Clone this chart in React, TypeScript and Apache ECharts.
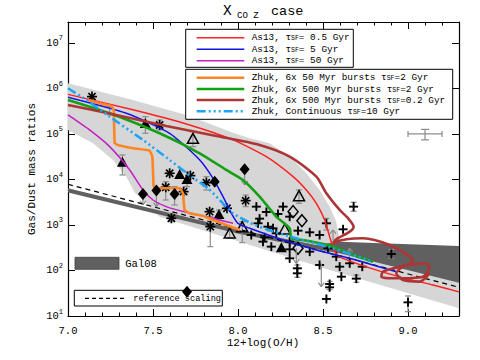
import React, { useEffect, useRef } from "react";
import * as echarts from "echarts";

const MONO = "'Liberation Mono', 'DejaVu Sans Mono', monospace";

// All points: [12+log(O/H), log10(gas-to-dust mass ratio)]
const as13Tau05 = [[7.0, 5.87], [7.382, 5.53], [7.696, 5.22], [7.971, 4.87], [8.167, 4.5], [8.324, 4.062], [8.402, 3.769], [8.461, 3.476], [8.51, 3.11], [8.539, 2.744], [8.569, 2.414], [8.594, 2.304], [8.755, 2.08], [8.951, 1.86], [9.147, 1.68], [9.3, 1.53]];
const as13Tau5 = [[7.0, 5.806], [7.343, 5.454], [7.598, 5.015], [7.775, 4.429], [7.853, 4.026], [7.912, 3.623], [7.961, 3.256], [8.0, 3.037], [8.069, 2.927], [8.265, 2.67], [8.461, 2.451], [8.657, 2.267], [8.794, 2.121], [8.931, 1.974]];
const as13Tau50 = [[7.0, 5.418], [7.127, 5.088], [7.245, 4.722], [7.363, 4.209], [7.441, 3.769], [7.5, 3.549], [7.578, 3.403], [7.696, 3.278], [7.853, 3.147], [7.971, 3.037]];
const zhuk50Myr = [[7.118, 5.747], [7.186, 5.674], [7.255, 5.615], [7.269, 5.527], [7.275, 4.795], [7.304, 4.744], [7.382, 4.685], [7.48, 4.634], [7.496, 4.502], [7.504, 3.842], [7.52, 3.806], [7.657, 3.806], [7.676, 3.696], [7.686, 3.33], [7.716, 3.256], [7.794, 3.198], [7.853, 3.11], [7.931, 3.0], [8.01, 2.89]];
const zhuk500Myr2 = [[7.0, 5.747], [7.245, 5.454], [7.539, 5.015], [7.775, 4.575], [7.931, 4.209], [8.029, 3.989], [8.127, 3.623], [8.225, 3.183], [8.304, 2.927], [8.314, 2.707], [8.382, 2.67], [8.48, 2.597], [8.559, 2.524], [8.676, 2.341], [8.794, 2.194]];
const zhuk500Myr02 = [[7.0, 5.637], [7.284, 5.418], [7.578, 5.176], [7.873, 4.956], [8.127, 4.758], [8.304, 4.502], [8.461, 4.062], [8.52, 3.696], [8.598, 3.33], [8.647, 3.15], [8.68, 2.963], [8.657, 2.853], [8.578, 2.685], [8.559, 2.612], [8.637, 2.685], [8.735, 2.707], [8.892, 2.56], [9.01, 2.304], [9.029, 2.194], [8.951, 2.084], [8.853, 1.974], [8.843, 1.864], [8.912, 1.828], [9.088, 1.864], [9.127, 2.084], [9.108, 2.158], [8.971, 2.084], [8.931, 1.938], [8.971, 1.791], [9.069, 1.755], [9.127, 1.938]];
const zhukContinuous = [[7.0, 6.004], [7.108, 5.747], [7.245, 5.381], [7.441, 4.868], [7.598, 4.429], [7.725, 4.062], [7.824, 3.806], [7.892, 3.549], [7.971, 3.256], [8.069, 3.051], [8.167, 2.905], [8.363, 2.685], [8.559, 2.487], [8.775, 2.216]];
const referenceScaling = [[7.0, 3.894], [9.3, 1.63]];

const scatterBand = [[7.0, 6.114], [7.382, 5.747], [7.696, 5.418], [7.971, 5.029], [8.069, 4.905], [8.186, 4.795], [8.304, 4.502], [8.402, 4.136], [8.48, 3.769], [8.539, 3.403], [8.578, 3.073], [8.598, 2.67], [8.637, 2.487], [9.3, 2.084], [9.3, 1.168], [8.539, 2.011], [8.127, 2.495], [7.539, 3.183], [7.461, 3.476], [7.392, 3.711], [7.343, 4.062], [7.265, 4.429], [7.147, 4.795], [7.0, 5.088]];
const gal08Band = [[7.0, 3.806], [8.01, 2.89], [8.461, 2.56], [8.598, 2.634], [9.3, 2.538], [9.3, 1.733], [8.598, 2.377], [8.461, 2.465], [8.01, 2.802], [7.0, 3.711]];

const plusPts = [[8.108, 3.403], [8.167, 3.286], [8.265, 3.403], [8.127, 3.139], [8.235, 3.242], [8.304, 3.183], [8.206, 2.927], [8.118, 3.037], [8.176, 2.963], [8.078, 2.78], [8.157, 2.729], [8.225, 2.817], [8.353, 2.875], [8.422, 2.839], [8.48, 2.78], [8.52, 3.037], [8.618, 2.905], [8.68, 3.403], [8.304, 2.634], [8.304, 2.267], [8.422, 2.414], [8.529, 2.487], [8.578, 2.304], [8.48, 2.121], [8.598, 2.084], [8.657, 2.158], [8.731, 2.084], [8.608, 1.864], [8.696, 1.821], [8.902, 2.363], [9.0, 1.3], [8.52, 1.374], [8.349, 2.048], [8.349, 1.938], [8.539, 1.703], [8.539, 1.63], [8.304, 2.465], [8.196, 2.524], [8.147, 2.634]];
const asteriskPts = [[7.141, 5.821], [7.539, 5.198], [7.598, 4.136], [7.72, 4.084], [7.814, 3.93], [7.575, 3.828], [7.68, 3.733], [7.833, 3.293], [7.935, 3.366], [7.608, 3.147], [7.837, 2.963], [8.045, 3.535]];
const filledTriPts = [[7.32, 4.37], [7.455, 5.22], [7.657, 4.099], [7.7, 3.989], [7.888, 3.22], [8.255, 2.487]];
const openTriPts = [[7.735, 4.883], [8.359, 3.623], [7.951, 2.802], [8.025, 2.941], [8.275, 2.89]];
const filledDiaPts = [[7.441, 3.681], [7.52, 3.755], [7.627, 3.681], [7.863, 3.952], [8.039, 4.223], [7.7, 1.535]];
const openDiaPts = [[8.324, 3.293], [8.376, 3.095], [8.353, 2.487]];

// [x, low, high]
const errorBars = [[7.245, 5.418, 5.6], [7.455, 5.015, 5.381], [7.539, 5.088, 5.308], [7.32, 4.099, 4.538], [7.735, 4.722, 5.051], [7.575, 3.549, 3.952], [7.627, 3.44, 3.842], [7.837, 2.524, 3.183], [7.814, 3.769, 4.062], [7.951, 2.707, 2.963], [8.025, 2.612, 3.073], [8.045, 3.403, 3.659], [8.359, 3.476, 3.769], [9.0, 1.095, 1.44], [7.7, 3.842, 4.172], [7.888, 3.11, 3.33], [7.608, 3.073, 3.256], [8.52, 2.89, 3.146], [8.68, 3.3, 3.5], [8.902, 2.27, 2.46], [8.349, 1.85, 2.12], [8.539, 1.58, 1.76], [8.696, 1.74, 1.9]];
// [x, from, to]  (limits drawn as arrows)
const limitArrows = [[8.039, 4.223, 3.879], [7.441, 3.681, 3.44], [7.52, 3.755, 3.403], [7.7, 1.535, 1.242], [8.49, 2.158, 1.645], [8.343, 2.487, 2.158], [8.559, 2.67, 2.89], [8.657, 2.304, 2.487]];
// [x, y, xLow, xHigh, yLow, yHigh]
const typicalError = [9.1, 5.0, 9.0, 9.2, 4.87, 5.1];

const pw = (l: number) => Math.pow(10, l);
const toXY = (arr: number[][]) => arr.map(([x, l]) => [x, pw(l)]);
const K = "#000";
const GREY = "#8c8c8c";

const seg = (x1: number, y1: number, x2: number, y2: number, color = K, w = 1.5) => ({
  type: "line", shape: { x1, y1, x2, y2 }, style: { stroke: color, lineWidth: w },
});

function markerSeries(data: number[][], draw: (x: number, y: number) => any[], z = 2) {
  return {
    type: "custom", data: toXY(data), silent: true, z,
    renderItem: (_p: any, api: any) => {
      const c = api.coord([api.value(0), api.value(1)]);
      return { type: "group", children: draw(c[0], c[1]) };
    },
  };
}
const drawPlus = (x: number, y: number) => [seg(x - 4.5, y, x + 4.5, y, K, 1.9), seg(x, y - 4.5, x, y + 4.5, K, 1.9)];
const drawAst = (x: number, y: number) => [seg(x - 5, y, x + 5, y, K, 1.7), seg(x, y - 5, x, y + 5, K, 1.7), seg(x - 3.6, y - 3.6, x + 3.6, y + 3.6, K, 1.7), seg(x - 3.6, y + 3.6, x + 3.6, y - 3.6, K, 1.7)];
const tri = (x: number, y: number) => [[x, y - 6], [x + 5.5, y + 4], [x - 5.5, y + 4]];
const dia = (x: number, y: number) => [[x, y - 6], [x + 5, y], [x, y + 6], [x - 5, y]];
const drawFTri = (x: number, y: number) => [{ type: "polygon", shape: { points: tri(x, y) }, style: { fill: K } }];
const drawOTri = (x: number, y: number) => [{ type: "polygon", shape: { points: tri(x, y) }, style: { fill: "none", stroke: K, lineWidth: 1.5 } }];
const drawFDia = (x: number, y: number) => [{ type: "polygon", shape: { points: dia(x, y) }, style: { fill: K } }];
const drawODia = (x: number, y: number) => [{ type: "polygon", shape: { points: dia(x, y) }, style: { fill: "none", stroke: K, lineWidth: 1.5 } }];

function bandSeries(pts: number[][], fill: string) {
  return {
    type: "custom", data: toXY(pts), silent: true,
    renderItem: (params: any, api: any) => {
      if (params.dataIndex !== 0) return null;
      return { type: "polygon", shape: { points: pts.map(([x, l]) => api.coord([x, pw(l)])) }, style: { fill } };
    },
  };
}

function lineSeries(data: number[][], color: string, width: number, type: any = "solid", smooth = 0.2) {
  return {
    type: "line", data: toXY(data), symbol: "none", showSymbol: false, smooth, silent: true,
    lineStyle: { color, width, type },
  };
}

const RED = "#ff2020", BLUE = "#1414e6", MAG = "#c41ec4", ORANGE = "#ff8424", GREEN = "#14a014", BROWN = "#ad3535", CYAN = "#1ea5f5";
const CYAN_DASH = [9, 3, 2, 3, 2, 3, 2, 3];

export default function App() {
  const ref = useRef<HTMLDivElement>(null);
  useEffect(() => {
    const chart = echarts.init(ref.current!, null, { renderer: "svg" });
    const xBase = { type: "value", min: 7.0, max: 9.3, splitLine: { show: false } };
    const yBase = { type: "log", logBase: 10, min: 10, max: pw(7.46), splitLine: { show: false } };
    const axisLine = { show: true, onZero: false, lineStyle: { color: K, width: 1.2 } };
    const tickStyle = { color: K, width: 1 };

    const sub = { fontSize: 6.5, verticalAlign: "bottom", fontFamily: MONO, fill: K };
    const legendText = (x: number, y: number, text: string) => ({
      type: "text", x, y, z: 101,
      style: { text, fontFamily: MONO, fontSize: 9.4, fill: K, align: "left", verticalAlign: "middle", textAlign: "left", textVerticalAlign: "middle", rich: { s: sub } },
    });
    const legendLine = (y: number, color: string, w: number, dash?: number[]) => ({
      type: "line", z: 101, shape: { x1: 196.7, y1: y, x2: 244.3, y2: y },
      style: { stroke: color, lineWidth: w, lineDash: dash || null },
    });
    const plain = (x: number, y: number, text: string, fontSize: number, align = "left", extra: any = {}) => ({
      type: "text", x, y, z: 101, ...extra,
      style: { text, fontFamily: MONO, fontSize, fill: K, align, verticalAlign: "middle", textAlign: align, textVerticalAlign: "middle" },
    });

    chart.setOption({
      animation: false,
      backgroundColor: "#fff",
      grid: { left: 68, right: 21, top: 22, bottom: 44, containLabel: false },
      xAxis: [
        { ...xBase, position: "bottom", interval: 0.5, axisLine, axisTick: { inside: true, length: 7, lineStyle: tickStyle },
          axisLabel: { margin: 9, fontSize: 10.5, color: K, fontFamily: MONO, showMaxLabel: false, formatter: (v: number) => v.toFixed(1) } },
        { ...xBase, position: "bottom", interval: 0.1, axisLine: { show: false }, axisTick: { inside: true, length: 3.5, lineStyle: tickStyle }, axisLabel: { show: false } },
        { ...xBase, position: "top", interval: 0.5, axisLine, axisTick: { inside: true, length: 7, lineStyle: tickStyle }, axisLabel: { show: false } },
        { ...xBase, position: "top", interval: 0.1, axisLine: { show: false }, axisTick: { inside: true, length: 3.5, lineStyle: tickStyle }, axisLabel: { show: false } },
      ],
      yAxis: [
        { ...yBase, position: "left", axisLine, axisTick: { inside: true, length: 7, lineStyle: tickStyle }, minorTick: { show: false },
          axisLabel: {
            margin: 5, color: K, fontFamily: MONO, fontSize: 10, showMaxLabel: false,
            formatter: (v: number) => {
              const l = Math.log10(v);
              const e = Math.round(l);
              if (Math.abs(l - e) > 0.01) return "";
              return `{b|10}{s|${e}}`;
            },
            rich: { b: { fontSize: 10.5, fontFamily: MONO, color: K, lineHeight: 16, verticalAlign: "middle" }, s: { fontSize: 7, fontFamily: MONO, color: K, lineHeight: 16, verticalAlign: "top" } },
          } },
        { ...yBase, position: "right", axisLine, axisTick: { inside: true, length: 7, lineStyle: tickStyle }, axisLabel: { show: false } },
      ],
      series: [
        bandSeries(scatterBand, "#d6d6d6"),
        bandSeries(gal08Band, "#606060"),
        {
          type: "custom", silent: true,
          data: errorBars.map(([x, lo, hi]) => [x, pw(lo), pw(hi)]),
          renderItem: (_p: any, api: any) => {
            const a = api.coord([api.value(0), api.value(1)]);
            const b = api.coord([api.value(0), api.value(2)]);
            return { type: "group", children: [seg(a[0], a[1], b[0], b[1], GREY, 1.2), seg(a[0] - 3, a[1], a[0] + 3, a[1], GREY, 1.2), seg(b[0] - 3, b[1], b[0] + 3, b[1], GREY, 1.2)] };
          },
        },
        {
          type: "custom", silent: true, z: 3,
          data: limitArrows.map(([x, f, t]) => [x, pw(f), pw(t)]),
          renderItem: (_p: any, api: any) => {
            const a = api.coord([api.value(0), api.value(1)]);
            const b = api.coord([api.value(0), api.value(2)]);
            const d = b[1] > a[1] ? 1 : -1;
            return { type: "group", children: [seg(a[0], a[1], b[0], b[1], GREY, 1.2), seg(b[0], b[1], b[0] - 3, b[1] - d * 4, GREY, 1.2), seg(b[0], b[1], b[0] + 3, b[1] - d * 4, GREY, 1.2)] };
          },
        },
        {
          type: "custom", silent: true,
          data: [[typicalError[0], pw(typicalError[1]), typicalError[2], typicalError[3], pw(typicalError[4]), pw(typicalError[5])]],
          renderItem: (_p: any, api: any) => {
            const c = api.coord([api.value(0), api.value(1)]);
            const l = api.coord([api.value(2), api.value(1)]);
            const r = api.coord([api.value(3), api.value(1)]);
            const lo = api.coord([api.value(0), api.value(4)]);
            const hi = api.coord([api.value(0), api.value(5)]);
            return { type: "group", children: [
              seg(l[0], c[1], r[0], c[1], GREY, 1.2), seg(l[0], c[1] - 3, l[0], c[1] + 3, GREY, 1.2), seg(r[0], c[1] - 3, r[0], c[1] + 3, GREY, 1.2),
              seg(c[0], lo[1], c[0], hi[1], GREY, 1.2), seg(c[0] - 4, lo[1], c[0] + 4, lo[1], GREY, 1.2), seg(c[0] - 4, hi[1], c[0] + 4, hi[1], GREY, 1.2),
            ] };
          },
        },
        markerSeries(plusPts, drawPlus),
        markerSeries(asteriskPts, drawAst),
        markerSeries(filledTriPts, drawFTri),
        markerSeries(openTriPts, drawOTri),
        markerSeries(filledDiaPts, drawFDia, 102),
        markerSeries(openDiaPts, drawODia),
        lineSeries(referenceScaling, K, 1.2, [5, 4], 0),
        lineSeries(as13Tau05, RED, 1.5),
        lineSeries(as13Tau5, BLUE, 1.5),
        lineSeries(as13Tau50, MAG, 1.5),
        lineSeries(zhuk50Myr, ORANGE, 2.6, "solid", 0.1),
        lineSeries(zhuk500Myr2, GREEN, 2.6),
        lineSeries(zhuk500Myr02, BROWN, 2.6, "solid", 0.25),
        lineSeries(zhukContinuous, CYAN, 2.6, CYAN_DASH),
      ],
      graphic: [
        plain(223, 11, "X", 14.5),
        plain(237, 15.5, "CO Z", 9),
        plain(271, 11.5, "case", 13.5),
        plain(263, 343, "12+log(O/H)", 11, "center"),
        plain(32, 169, "Gas/Dust mass ratios", 11, "center", { rotation: Math.PI / 2 }),

        { type: "rect", z: 100, shape: { x: 185.7, y: 29.3, width: 167.6, height: 38 }, style: { fill: "#fff", stroke: K, lineWidth: 1 } },
        { type: "rect", z: 100, shape: { x: 185.7, y: 69.3, width: 267, height: 50 }, style: { fill: "#fff", stroke: K, lineWidth: 1 } },
        legendLine(37.7, RED, 1.5), legendText(251.7, 37.7, "As13, τ{s|SF}= 0.5 Gyr"),
        legendLine(49.3, BLUE, 1.5), legendText(251.7, 49.3, "As13, τ{s|SF}= 5 Gyr"),
        legendLine(60.7, MAG, 1.5), legendText(251.7, 60.7, "As13, τ{s|SF}= 50 Gyr"),
        legendLine(77.7, ORANGE, 2.6), legendText(251.7, 77.7, "Zhuk, 6x 50 Myr bursts τ{s|SF}=2 Gyr"),
        legendLine(89, GREEN, 2.6), legendText(251.7, 89, "Zhuk, 6x 500 Myr bursts τ{s|SF}=2 Gyr"),
        legendLine(100, BROWN, 2.6), legendText(251.7, 100, "Zhuk, 6x 500 Myr bursts τ{s|SF}=0.2 Gyr"),
        legendLine(111.3, CYAN, 2.6, CYAN_DASH), legendText(251.7, 111.3, "Zhuk, Continuous τ{s|SF}=10 Gyr"),

        { type: "rect", z: 100, shape: { x: 75, y: 257.3, width: 44, height: 12 }, style: { fill: "#606060", stroke: "#404040", lineWidth: 0.8 } },
        plain(125.3, 263.5, "Gal08", 10.5),

        { type: "rect", z: 100, shape: { x: 74.3, y: 290.3, width: 148, height: 15.7 }, style: { fill: "#fff", stroke: K, lineWidth: 1 } },
        { type: "line", z: 101, shape: { x1: 85, y1: 298.3, x2: 127, y2: 298.3 }, style: { stroke: K, lineWidth: 1.2, lineDash: [4, 3] } },
        plain(133.3, 298.5, "reference scaling", 8.6),
      ],
    });
    return () => chart.dispose();
  }, []);
  return <div ref={ref} style={{ position: "fixed", left: 0, top: 0, width: 480, height: 360, background: "#fff" }} />;
}
